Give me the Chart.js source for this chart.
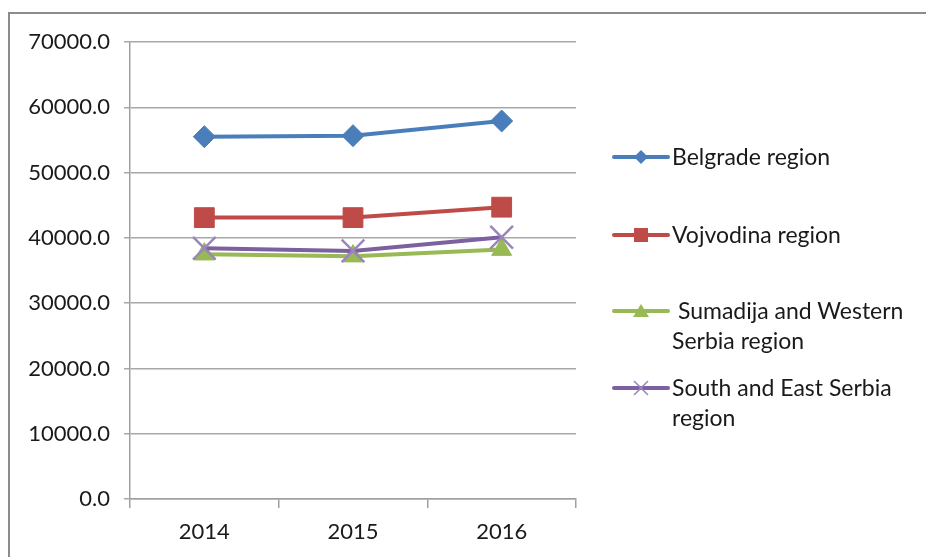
<!DOCTYPE html>
<html>
<head>
<meta charset="utf-8">
<script src="https://cdn.jsdelivr.net/npm/chart.js@4.4.0/dist/chart.umd.min.js"></script>
<style>
  html, body { margin: 0; padding: 0; background: #fff; }
  #wrap { position: relative; width: 926px; height: 557px; overflow: hidden; }
  #frame { position: absolute; left: 8px; top: 12px; width: 960px; height: 600px;
           border: 2px solid #8c8c8c; box-sizing: border-box; }
  #chart { position: absolute; left: 0; top: 0; }
  .leg { position: absolute; left: 612px; font-family: Lato, "Open Sans", sans-serif;
         font-size: 23px; color: #1a1a1a; line-height: 30px; }
  .leg svg { position: absolute; left: 0; top: 6px; }
  .leg span { display: block; margin-left: 60px; white-space: nowrap; }
</style>
</head>
<body>
<div id="wrap">
  <div id="frame"></div>
  <canvas id="chart" width="926" height="557"></canvas>
  <div id="legend"></div>
</div>
<script>
var years = ["2014", "2015", "2016"];
var seriesNames = ["Belgrade region", "Vojvodina region", " Sumadija and Western Serbia region", "South and East Serbia region"];
var belgrade = [55500, 55650, 57900];
var vojvodina = [43100, 43100, 44700];
var sumadija = [37500, 37200, 38200];
var southEast = [38400, 38000, 40100];
var yTicks = [0, 10000, 20000, 30000, 40000, 50000, 60000, 70000];

var colors = ["#4a7ebb", "#be4b48", "#98b954", "#7d60a0"];
var markers = ["rectRot", "rect", "triangle", "crossRot"];
var radii = [11, 14, 11.5, 16];
var legendLines = [
  { top: 141, lines: ["Belgrade region"] },
  { top: 219, lines: ["Vojvodina region"] },
  { top: 295, lines: ["\u00a0Sumadija and Western", "Serbia region"] },
  { top: 372, lines: ["South and East Serbia", "region"] }
];

var values = [belgrade, vojvodina, sumadija, southEast];
var datasets = values.map(function (v, i) {
  return {
    label: seriesNames[i],
    data: v,
    borderColor: colors[i],
    backgroundColor: colors[i],
    pointBackgroundColor: colors[i],
    pointBorderColor: i === 3 ? "#9a86bd" : colors[i],
    pointBorderWidth: i === 3 ? 2.5 : 1,
    borderWidth: 4,
    pointStyle: markers[i],
    pointRadius: radii[i],
    order: 4 - i,
    tension: 0
  };
});

var tickFont = { family: "Lato, 'Open Sans', sans-serif", size: 22 };

new Chart(document.getElementById("chart"), {
  type: 'line',
  data: { labels: years, datasets: datasets },
  options: {
    responsive: false,
    animation: false,
    layout: { padding: { top: 42, right: 350, left: 0, bottom: 0 } },
    plugins: { legend: { display: false }, tooltip: { enabled: false } },
    scales: {
      x: {
        offset: true,
        grid: { display: true, offset: true, drawOnChartArea: false, color: "#a0a0a0", tickLength: 9, lineWidth: 1.5 },
        border: { color: "#a0a0a0", width: 1.5 },
        ticks: { color: "#1a1a1a", font: tickFont, padding: 11 },
        afterFit: function (s) { s.height = 58; }
      },
      y: {
        min: 0, max: 70000,
        afterBuildTicks: function (s) { s.ticks = yTicks.map(function (v) { return { value: v }; }); },
        grid: { color: "#a8a8a8", tickLength: 6, lineWidth: 1.5 },
        border: { color: "#a0a0a0", width: 1.5 },
        ticks: { color: "#1a1a1a", font: tickFont, padding: 14,
                 callback: function (v) { return v.toFixed(1); } },
        afterFit: function (s) { s.width = 130; }
      }
    }
  }
});

// HTML legend, Excel style
var legend = document.getElementById("legend");
legendLines.forEach(function (item, i) {
  var d = document.createElement("div");
  d.className = "leg";
  d.style.top = item.top + "px";
  var c = colors[i], m = "";
  if (markers[i] === "rectRot") m = '<polygon points="29,3 36,10 29,17 22,10" fill="' + c + '"/>';
  if (markers[i] === "rect") m = '<rect x="22" y="3" width="14" height="14" fill="' + c + '"/>';
  if (markers[i] === "triangle") m = '<polygon points="29,3 37,16 21,16" fill="' + c + '"/>';
  if (markers[i] === "crossRot") m = '<path d="M22,3 L36,17 M36,3 L22,17" stroke="#9a86bd" stroke-width="1.5"/>';
  d.innerHTML = '<svg width="58" height="20"><line x1="2" y1="10" x2="56" y2="10" stroke="' + c +
    '" stroke-width="4" stroke-linecap="round"/>' + m + '</svg>' +
    item.lines.map(function (t) { return "<span>" + t + "</span>"; }).join("");
  legend.appendChild(d);
});
</script>
</body>
</html>
